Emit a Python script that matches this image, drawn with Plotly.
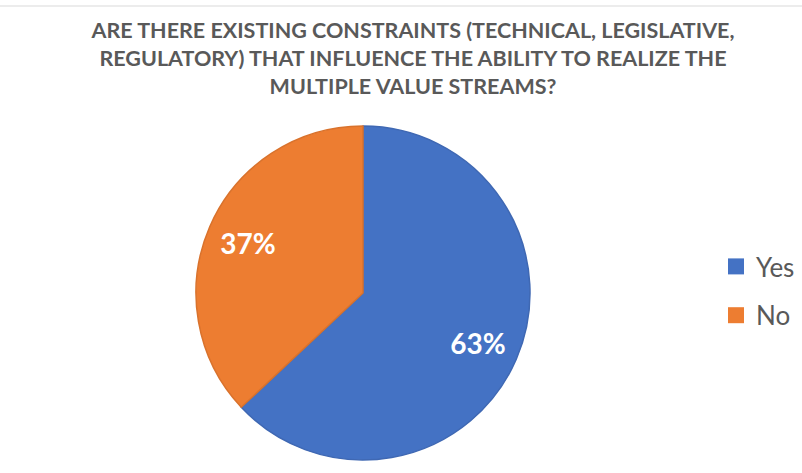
import plotly.graph_objects as go

labels = ["Yes", "No"]
values = [63, 37]
colors = ["#4472C4", "#ED7D31"]
border_colors = ["#3F68B3", "#D9722C"]
title_lines = [
    "ARE THERE EXISTING CONSTRAINTS (TECHNICAL, LEGISLATIVE,",
    "REGULATORY) THAT INFLUENCE THE ABILITY TO REALIZE THE",
    "MULTIPLE VALUE STREAMS?",
]

W, H = 802, 473
cx, cy, R = 363, 293, 167
domain = dict(x=[(cx - R) / W, (cx + R) / W], y=[1 - (cy + R) / H, 1 - (cy - R) / H])

fig = go.Figure()

# main pie (colours)
fig.add_trace(go.Pie(
    labels=labels, values=values, sort=False,
    direction="clockwise", rotation=0,
    marker=dict(colors=colors, line=dict(color=border_colors, width=1.5)),
    textinfo="none", domain=domain, hoverinfo="skip", showlegend=False,
))

# transparent ring carrying the percentage labels further out
fig.add_trace(go.Pie(
    labels=labels, values=values, sort=False,
    direction="clockwise", rotation=0, hole=0.5,
    marker=dict(colors=["rgba(0,0,0,0)"] * len(labels), line=dict(width=0)),
    textinfo="percent", texttemplate="%{percent:.0%}",
    textposition="inside", insidetextorientation="horizontal",
    textfont=dict(family="Lato", size=28, color="white", weight="bold"),
    domain=domain, hoverinfo="skip", showlegend=False,
))

# legend entries
for lab, col in zip(labels, colors):
    fig.add_trace(go.Scatter(
        x=[None], y=[None], mode="markers", name=lab, legendgroup=lab,
        marker=dict(symbol="square", size=16, color=col),
    ))

fig.update_layout(
    width=W, height=H,
    margin=dict(l=0, r=0, t=0, b=0),
    paper_bgcolor="white", plot_bgcolor="white",
    xaxis=dict(visible=False), yaxis=dict(visible=False),
    title=dict(
        text="<br>".join(f"<b>{t}</b>" for t in title_lines),
        x=413 / W, xanchor="center",
        y=1 - 38 / H, yanchor="top",
        font=dict(family="Lato", size=21.5, color="#595959"),
    ),
    legend=dict(
        x=716 / W, xanchor="left",
        y=1 - 291 / H, yanchor="middle",
        font=dict(family="Lato", size=26, color="#595959"),
        traceorder="grouped",
        tracegroupgap=12,
        bgcolor="rgba(0,0,0,0)",
    ),
    showlegend=True,
    shapes=[dict(type="line", xref="paper", yref="paper", x0=0, x1=1,
                 y0=1 - 6 / H, y1=1 - 6 / H, line=dict(color="#D9D9D9", width=1))],
)

fig.write_html("out.html")
